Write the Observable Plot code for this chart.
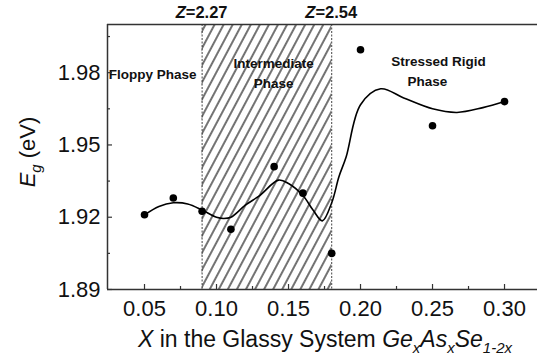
<!DOCTYPE html>
<html><head><meta charset="utf-8">
<script src="https://cdn.jsdelivr.net/npm/d3@7"></script>
<script src="https://cdn.jsdelivr.net/npm/@observablehq/plot@0.6"></script>
<style>
body{margin:0;background:#fff}
svg{font-family:Arial,"Liberation Sans",sans-serif}
</style>
</head><body><div id="chart"></div>
<script>
// measured data points
const xValues = [0.05, 0.07, 0.09, 0.11, 0.14, 0.16, 0.18, 0.20, 0.25, 0.30];
const egValues = [1.921, 1.928, 1.9225, 1.915, 1.941, 1.930, 1.905, 1.9895, 1.958, 1.968];
// smooth fit curve
const fitX = [0.05, 0.06, 0.07, 0.08, 0.09, 0.10, 0.105, 0.11, 0.12, 0.13, 0.143, 0.15, 0.16, 0.167, 0.1735, 0.18, 0.185, 0.19, 0.20, 0.214, 0.23, 0.25, 0.267, 0.285, 0.30];
const fitY = [1.921, 1.9245, 1.926, 1.9255, 1.923, 1.920, 1.9195, 1.920, 1.925, 1.929, 1.9354, 1.934, 1.929, 1.923, 1.9185, 1.926, 1.9368, 1.945, 1.9667, 1.9733, 1.9695, 1.965, 1.9635, 1.9655, 1.968];
const xTicks = [0.05, 0.10, 0.15, 0.20, 0.25, 0.30];
const xMinor = [0.075, 0.125, 0.175, 0.225, 0.275];
const yTicks = [1.89, 1.92, 1.95, 1.98];
const yMinor = [1.905, 1.935, 1.965, 1.995];
const phaseBounds = [0.09, 0.18];
const zLabels = ["2.27", "2.54"];
const phaseNames = ["Floppy Phase", "Intermediate\nPhase", "Stressed Rigid", "Phase"];
const phaseNameX = [0.0556, 0.1396, 0.2542, 0.2465];
const phaseNameY = [1.98, 1.9805, 1.9854, 1.977];

const xDomain = [0.0243, 0.3229];
const yDomain = [1.89, 2.0];

const points = xValues.map((x, i) => ({x, y: egValues[i]}));
const fit = fitX.map((x, i) => ({x, y: fitY[i]}));
const labels = phaseNames.map((t, i) => ({t, x: phaseNameX[i], y: phaseNameY[i]}));
const axisColor = "#333";
const majorLen = 5 / 2400, minorLen = 3 / 2400; // tick lengths in y units
const majorLenX = 5 / 1440, minorLenX = 3 / 1440;

const plot = Plot.plot({
  width: 537,
  height: 362,
  marginLeft: 107,
  marginRight: 0,
  marginTop: 24,
  marginBottom: 73,
  style: {fontFamily: "Arial, 'Liberation Sans', sans-serif", background: "#fff"},
  x: {domain: xDomain},
  y: {domain: yDomain},
  marks: [
    Plot.rect([{x1: phaseBounds[0], x2: phaseBounds[1]}], {x1: "x1", x2: "x2", y1: () => yDomain[0], y2: () => yDomain[1], fill: "url(#hatch)"}),
    Plot.ruleX(phaseBounds, {stroke: "#444", strokeWidth: 1, strokeDasharray: "2,1.5"}),
    Plot.line(fit, {x: "x", y: "y", curve: "catmull-rom", stroke: "black", strokeWidth: 1.6}),
    Plot.dot(points, {x: "x", y: "y", r: 3.8, fill: "black", stroke: "none"}),
    Plot.text(labels, {x: "x", y: "y", text: "t", fontWeight: "bold", fontSize: 13.5, fill: "#111", lineHeight: 1.45}),
    // frame
    Plot.ruleX([xDomain[0]], {stroke: axisColor, strokeWidth: 1.5}),
    Plot.ruleY([yDomain[0]], {stroke: axisColor, strokeWidth: 1.5}),
    Plot.ruleY([yDomain[1]], {stroke: axisColor, strokeWidth: 1.5}),
    // inward ticks
    Plot.ruleX(xTicks, {y1: yDomain[0], y2: yDomain[0] + majorLen, stroke: axisColor, strokeWidth: 1.2}),
    Plot.ruleX(xMinor, {y1: yDomain[0], y2: yDomain[0] + minorLen, stroke: axisColor, strokeWidth: 1.2}),
    Plot.ruleY(yTicks, {x1: xDomain[0], x2: xDomain[0] + majorLenX, stroke: axisColor, strokeWidth: 1.2}),
    Plot.ruleY(yMinor, {x1: xDomain[0], x2: xDomain[0] + minorLenX, stroke: axisColor, strokeWidth: 1.2}),
    Plot.axisX({ticks: xTicks, tickSize: 0, tickPadding: 11, tickFormat: d3.format(".2f"), fontSize: 22, label: null, fill: "#111"}),
    Plot.axisY({ticks: yTicks, tickSize: 0, tickPadding: 7, tickFormat: d3.format(".2f"), fontSize: 22, label: null, fill: "#111"})
  ]
});
document.getElementById("chart").appendChild(plot);

const svg = d3.select(plot);
const defs = svg.insert("defs", ":first-child");
const pat = defs.append("pattern").attr("id", "hatch").attr("patternUnits", "userSpaceOnUse")
  .attr("width", 8).attr("height", 10).attr("patternTransform", "rotate(28)");
pat.append("line").attr("x1", 1).attr("y1", -1).attr("x2", 1).attr("y2", 11).attr("stroke", "#000").attr("stroke-width", 1.1);

const xs = plot.scale("x");
// Z labels above the frame
zLabels.forEach((v, i) => {
  const t = svg.append("text").attr("x", xs.apply(phaseBounds[i])).attr("y", 18)
    .attr("text-anchor", "middle").attr("font-weight", "bold").attr("font-size", 16.5).attr("fill", "#111");
  t.append("tspan").attr("font-style", "italic").text("Z");
  t.append("tspan").text("=" + v);
});
// x axis title
const xt = svg.append("text").attr("x", 325).attr("y", 347).attr("text-anchor", "middle").attr("font-size", 23).attr("fill", "#111");
xt.append("tspan").attr("font-style", "italic").text("X");
xt.append("tspan").text(" in the Glassy System ");
let shift = 0;
[["Ge", "x"], ["As", "x"], ["Se", "1-2x"]].forEach(([el, sub]) => {
  xt.append("tspan").attr("font-style", "italic").attr("dy", -shift).text(el);
  xt.append("tspan").attr("font-style", "italic").attr("font-size", 15).attr("dy", 6).text(sub);
  shift = 6;
});
// y axis title
const yt = svg.append("text").attr("transform", "translate(35,152) rotate(-90)").attr("text-anchor", "middle").attr("font-size", 22).attr("fill", "#111");
yt.append("tspan").attr("font-style", "italic").text("E");
yt.append("tspan").attr("font-style", "italic").attr("font-size", 15).attr("dy", 6).text("g");
yt.append("tspan").attr("dy", -6).text(" (eV)");
</script>
</body></html>
